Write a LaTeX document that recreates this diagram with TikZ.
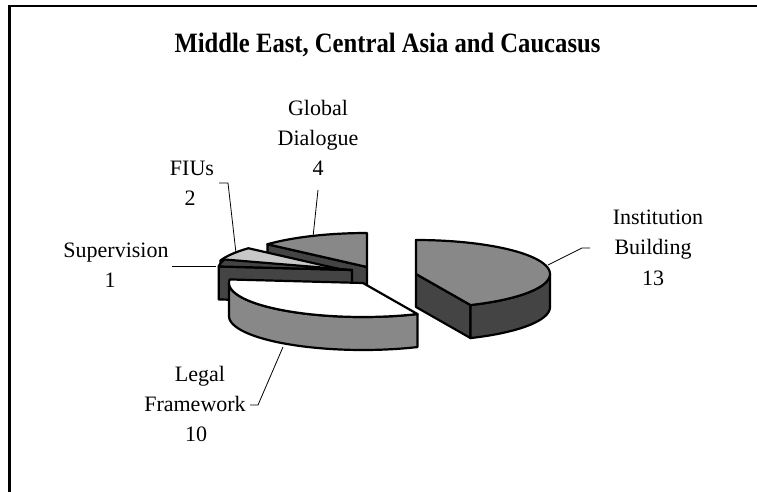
\documentclass[tikz,border=0pt]{standalone}
\usepackage{fontspec}
\setmainfont{Liberation Serif}
\def\RA{134}\def\RB{34}\def\TH{33}
\newcommand{\slicetop}[5]{\filldraw[edge,fill=#5] (#1,#2) -- plot[domain=#3:#4,samples=60] ({#1+\RA*cos(\x)},{#2-\RB*sin(\x)}) -- cycle;}
\newcommand{\sliceside}[5]{\filldraw[edge,fill=#5] plot[domain=#3:#4,samples=60] ({#1+\RA*cos(\x)},{#2-\RB*sin(\x)}) -- plot[domain=#4:#3,samples=60] ({#1+\RA*cos(\x)},{#2+\TH-\RB*sin(\x)}) -- cycle;}
\newcommand{\slicecut}[4]{\filldraw[edge,fill=#4] (#1,#2) -- ({#1+\RA*cos(#3)},{#2-\RB*sin(#3)}) -- ++(0,\TH) -- (#1,{#2+\TH}) -- cycle;}
\definecolor{pgray}{HTML}{888888}
\definecolor{pdark}{HTML}{444444}
\definecolor{plight}{HTML}{C8C8C8}
\begin{document}
\begin{tikzpicture}[x=1pt,y=-1pt,
  edge/.style={draw=black,line width=2.2pt,line join=round},
  leader/.style={draw=black,line width=0.8pt},
  lbl/.style={font=\fontsize{22}{26}\selectfont,anchor=base,inner sep=0pt},
  ttl/.style={font=\bfseries\fontsize{28}{32}\selectfont,anchor=base,inner sep=0pt}]
\useasboundingbox (0,0) rectangle (757,492);
% frame
\draw[line width=2.5pt] (9.7,492) -- (9.7,6.2) -- (757,6.2);
% title
\node[ttl] (title) at (387.5,53) {\scalebox{0.88}[1]{Middle East, Central Asia and Caucasus}};
% Global Dialogue
\slicecut{367}{267}{138}{pdark}
\slicetop{367}{267}{138}{90}{pgray}
% FIUs
\slicecut{348}{271}{162}{pdark}
\slicetop{348}{271}{162}{138}{plight}
% Supervision
\slicecut{352}{270}{174}{pdark}
\slicetop{352}{270}{174}{162}{pdark}
% Legal Framework
\sliceside{363}{283}{-180}{-66}{pgray}
\slicetop{363}{283}{-66}{-186}{white}
% Institution Building
\slicecut{416}{274}{-66}{pdark}
\sliceside{416}{274}{-66}{0}{pdark}
\slicetop{416}{274}{90}{-66}{pgray}
% labels
\node[lbl] (gd1) at (318,116) {Global};
\node[lbl] (gd2) at (318,145.5) {Dialogue};
\node[lbl] (gd3) at (318,175) {4};
\node[lbl] (fi1) at (192,175) {FIUs};
\node[lbl] (fi2) at (190,205) {2};
\node[lbl] (su1) at (116,257) {Supervision};
\node[lbl] (su2) at (110,287) {1};
\node[lbl] (ib1) at (658,224) {Institution};
\node[lbl] (ib2) at (653,254.5) {Building};
\node[lbl] (ib3) at (653,285) {13};
\node[lbl] (lf1) at (200,381) {Legal};
\node[lbl] (lf2) at (195,411) {Framework};
\node[lbl] (lf3) at (196,441) {10};
% leader coordinates
\coordinate (ibA) at (548,265); \coordinate (ibB) at (582,248); \coordinate (ibC) at (590,248);
\coordinate (lfA) at (283,347); \coordinate (lfB) at (258,405); \coordinate (lfC) at (250,405);
\coordinate (suA) at (216,266); \coordinate (suB) at (172,266);
\coordinate (fiA) at (236,253); \coordinate (fiB) at (228,183); \coordinate (fiC) at (219,183);
\coordinate (gdA) at (313,237); \coordinate (gdB) at (318,190);
\draw[leader] (ibA) -- (ibB) -- (ibC);
\draw[leader] (lfA) -- (lfB) -- (lfC);
\draw[leader] (suA) -- (suB);
\draw[leader] (fiA) -- (fiB) -- (fiC);
\draw[leader] (gdA) -- (gdB);
\end{tikzpicture}
\end{document}
